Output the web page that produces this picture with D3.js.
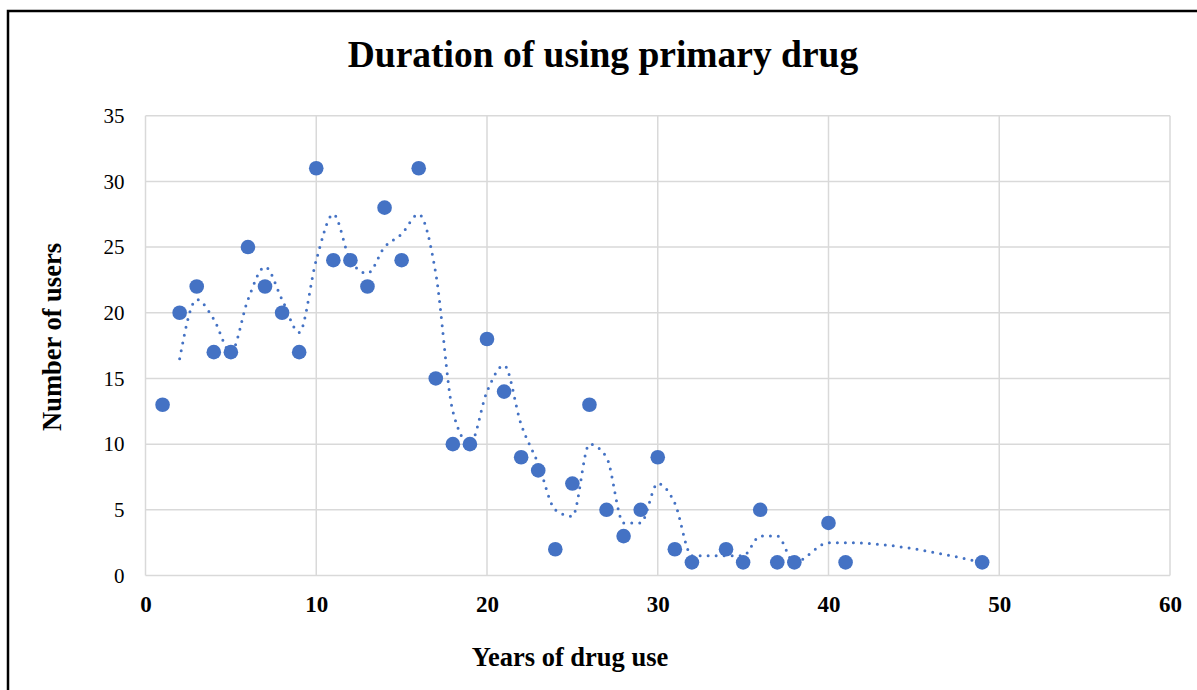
<!DOCTYPE html>
<html><head><meta charset="utf-8">
<script src="https://cdn.jsdelivr.net/npm/d3@7/dist/d3.min.js"></script>
<style>body{margin:0;background:#fff}svg{display:block}</style>
</head><body>
<svg id="c" width="1197" height="690"></svg>
<script>
const years = [1,2,3,4,5,6,7,8,9,10,11,12,13,14,15,16,17,18,19,20,21,22,23,24,25,26,27,28,29,30,31,32,34,35,36,37,38,40,41,49];
const users = [13,20,22,17,17,25,22,20,17,31,24,24,22,28,24,31,15,10,10,18,14,9,8,2,7,13,5,3,5,9,2,1,2,1,5,1,1,4,1,1];
const xTicks = [0,10,20,30,40,50,60];
const yTicks = [0,5,10,15,20,25,30,35];
const title = "Duration of using primary drug";
const xTitle = "Years of drug use";
const yTitle = "Number of users";
const maPeriod = 2;

const svg = d3.select("#c");
const serif = "'Liberation Serif','Times New Roman',serif";
const blue = "#4472C4";

svg.append("rect").attr("x",8).attr("y",11).attr("width",1260).attr("height",720)
  .attr("fill","none").attr("stroke","#000").attr("stroke-width",2.5);

const x = d3.scaleLinear().domain([0,60]).range([145.5,1170]);
const y = d3.scaleLinear().domain([0,35]).range([575.5,115.7]);

const g = svg.append("g");
g.selectAll(".hg").data(yTicks).join("line")
  .attr("x1",x(0)).attr("x2",x(60)).attr("y1",d=>y(d)).attr("y2",d=>y(d))
  .attr("stroke","#d9d9d9").attr("stroke-width",1.5);
g.selectAll(".vg").data(xTicks).join("line")
  .attr("y1",y(0)).attr("y2",y(35)).attr("x1",d=>x(d)).attr("x2",d=>x(d))
  .attr("stroke","#d9d9d9").attr("stroke-width",1.5);

svg.append("g").attr("transform",`translate(${x(0)-21},0)`)
  .call(d3.axisLeft(y).tickValues(yTicks).tickSize(0).tickPadding(0))
  .call(a=>a.select(".domain").remove())
  .selectAll("text").attr("font-family",serif).attr("font-size",21).attr("fill","#000");

svg.append("g").attr("transform",`translate(0,${y(0)+20})`)
  .call(d3.axisBottom(x).tickValues(xTicks).tickSize(0).tickPadding(0))
  .call(a=>a.select(".domain").remove())
  .selectAll("text").attr("font-family",serif).attr("font-size",23).attr("font-weight","bold").attr("fill","#000");

// Excel-style 2-period moving average trendline
const pts = years.map((d,i)=>({x:d,y:users[i]}));
const ma = [];
for(let i=maPeriod-1;i<pts.length;i++){
  let s=0; for(let k=0;k<maPeriod;k++) s+=pts[i-k].y;
  ma.push({x:pts[i].x,y:s/maPeriod});
}
svg.append("path").datum(ma)
  .attr("d",d3.line().x(d=>x(d.x)).y(d=>y(d.y)).curve(d3.curveMonotoneX))
  .attr("fill","none").attr("stroke",blue).attr("stroke-width",3)
  .attr("stroke-linecap","round").attr("stroke-dasharray","0 8");

svg.append("g").selectAll("circle").data(pts).join("circle")
  .attr("cx",d=>x(d.x)).attr("cy",d=>y(d.y)).attr("r",7.3).attr("fill",blue);

svg.append("text").attr("x",603).attr("y",67).attr("text-anchor","middle")
  .attr("font-family",serif).attr("font-weight","bold").attr("font-size",37.5).text(title);
svg.append("text").attr("x",570).attr("y",666).attr("text-anchor","middle")
  .attr("font-family",serif).attr("font-weight","bold").attr("font-size",26.5).text(xTitle);
svg.append("text").attr("transform","translate(61,337) rotate(-90)").attr("text-anchor","middle")
  .attr("font-family",serif).attr("font-weight","bold").attr("font-size",26.5).text(yTitle);
</script>
</body></html>
